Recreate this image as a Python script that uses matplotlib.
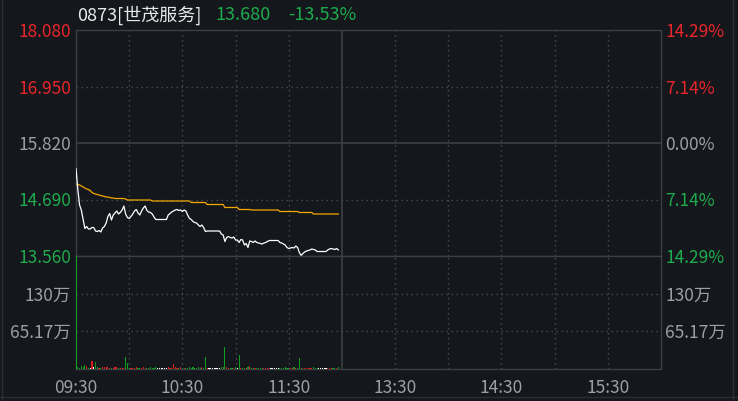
import matplotlib
matplotlib.use("Agg")
import matplotlib.pyplot as plt
from matplotlib.lines import Line2D
import numpy as np

plt.rcParams['font.family'] = ['Noto Sans CJK SC', 'DejaVu Sans']

# ---- data ----
stock_name = "0873[世茂服务]"
prev_close = 15.82
last_price = 13.680
change_pct = "-13.53%"

# one value per minute from 09:30
price = [
    15.31, 14.90, 14.58, 14.48, 14.30, 14.11, 14.15, 14.10, 14.10, 14.13,
    14.13, 14.06, 14.05, 14.07, 14.04, 14.12, 14.15, 14.22, 14.35, 14.41,
    14.28, 14.38, 14.42, 14.46, 14.40, 14.43, 14.48, 14.56, 14.40, 14.33,
    14.31, 14.35, 14.40, 14.46, 14.49, 14.42, 14.38, 14.46, 14.52, 14.56,
    14.47, 14.44, 14.43, 14.40, 14.34, 14.29, 14.29, 14.29, 14.29, 14.29,
    14.29, 14.29, 14.38, 14.41, 14.44, 14.46, 14.48, 14.49, 14.47, 14.48,
    14.45, 14.48, 14.46, 14.38, 14.31, 14.29, 14.25, 14.23, 14.22, 14.18,
    14.15, 14.18, 14.13, 14.05, 14.06, 14.06, 14.06, 14.06, 14.06, 14.06,
    14.06, 14.06, 14.00, 13.98, 13.85, 13.93, 13.95, 13.93, 13.92, 13.94,
    13.88, 13.88, 13.83, 13.89, 13.88, 13.78, 13.81, 13.73, 13.86, 13.85,
    13.83, 13.86, 13.83, 13.82, 13.81, 13.80, 13.82, 13.83, 13.85, 13.87,
    13.87, 13.87, 13.87, 13.87, 13.87, 13.83, 13.82, 13.80, 13.78, 13.73,
    13.71, 13.72, 13.73, 13.72, 13.76, 13.73, 13.63, 13.57, 13.61, 13.64,
    13.66, 13.67, 13.68, 13.70, 13.69, 13.68, 13.65, 13.65, 13.65, 13.65,
    13.65, 13.65, 13.68, 13.70, 13.71, 13.70, 13.69, 13.71, 13.68,
]

avg_price = [
    15.00, 14.99, 14.98, 14.96, 14.94, 14.92, 14.90, 14.89, 14.87, 14.83,
    14.81, 14.80, 14.79, 14.78, 14.77, 14.76, 14.75, 14.74, 14.74, 14.73,
    14.72, 14.72, 14.71, 14.71, 14.71, 14.71, 14.71, 14.71, 14.70, 14.68,
    14.68, 14.68, 14.68, 14.68, 14.68, 14.68, 14.68, 14.68, 14.68, 14.68,
    14.68, 14.68, 14.68, 14.66, 14.66, 14.66, 14.66, 14.66, 14.66, 14.66,
    14.66, 14.66, 14.66, 14.66, 14.66, 14.66, 14.66, 14.66, 14.66, 14.66,
    14.66, 14.66, 14.66, 14.66, 14.66, 14.63, 14.63, 14.63, 14.63, 14.63,
    14.63, 14.63, 14.63, 14.63, 14.59, 14.59, 14.59, 14.59, 14.59, 14.59,
    14.59, 14.59, 14.59, 14.59, 14.53, 14.53, 14.53, 14.53, 14.53, 14.53,
    14.53, 14.53, 14.49, 14.49, 14.49, 14.49, 14.49, 14.49, 14.49, 14.48,
    14.48, 14.48, 14.48, 14.48, 14.48, 14.48, 14.48, 14.48, 14.48, 14.48,
    14.48, 14.48, 14.48, 14.48, 14.48, 14.45, 14.45, 14.45, 14.45, 14.45,
    14.45, 14.45, 14.45, 14.45, 14.45, 14.45, 14.43, 14.43, 14.43, 14.43,
    14.43, 14.43, 14.43, 14.43, 14.40, 14.40, 14.40, 14.40, 14.40, 14.40,
    14.40, 14.40, 14.40, 14.40, 14.40, 14.40, 14.40, 14.40, 14.40,
]

# volume per minute, in 万 shares
volume = [
    260, 4, 2.3, 5, 3, 7, 5, 2, 2, 14,
    4, 12.6, 4, 2, 2, 4, 4, 4, 4, 2,
    2, 2, 4, 3, 2, 2, 2, 1.5, 21, 11,
    2, 1.5, 2, 2, 3, 1.5, 2, 2, 3, 2,
    2.5, 2, 3, 2, 2, 4, 2, 2, 1.5, 2,
    2, 2, 3, 2, 2, 9, 3, 2, 2, 3,
    2, 2, 2, 2, 3, 2, 3, 2, 2.5, 3,
    2, 3, 2, 20, 2, 2, 2, 1.5, 2, 2,
    2, 2, 3, 4, 38.6, 3, 2.5, 2, 1.5, 2,
    3, 2, 24, 2, 2, 2, 2, 4, 5, 2,
    2, 2, 2, 1.5, 2, 2, 2, 2, 1.5, 2,
    2, 2, 2, 2, 2, 2, 2, 2, 3, 2,
    2, 2, 2, 3, 2, 2, 19.5, 2, 2, 2,
    2, 2, 2, 2, 4, 2, 2, 2, 2, 2,
    2, 2, 2, 2, 2, 2, 2, 2, 3.5,
]

price_ticks = [13.56, 14.69, 15.82, 16.95, 18.08]
vol_ticks = [65.17, 130.34]
vol_tick_labels = ["65.17万", "130万"]
vol_top = 195.51
time_ticks = [0, 60, 120, 180, 240, 300]
time_labels = ["09:30", "10:30", "11:30", "13:30", "14:30", "15:30"]
session_minutes = 330   # 09:30-12:00 + 13:00-16:00
lunch_at = 150

# ---- style ----
BG = "#14171c"
BORDER = "#3c4046"
GRID = "#484c53"
RED = "#e8262c"
GREEN = "#1fab4c"
BAR_RED = "#d91c1c"
BAR_GREEN = "#0e9e1e"
GRAY = "#9ca0a6"
ORANGE = "#f5a800"
DOTTED = (0, (1, 2.6))
FS = 12.5

W, H = 738, 401
fig = plt.figure(figsize=(W / 100, H / 100), dpi=100, facecolor=BG)


def box(x0, y0, x1, y1):
    return [x0 / W, 1 - y1 / H, (x1 - x0) / W, (y1 - y0) / H]


ax_p = fig.add_axes(box(76, 30, 661, 256))
ax_v = fig.add_axes(box(76, 256, 661, 369), sharex=ax_p)

x = np.arange(len(price))

for ax in (ax_p, ax_v):
    ax.set_facecolor(BG)
    for sp in ax.spines.values():
        sp.set_color(BORDER)
        sp.set_linewidth(1)
    for t in range(30, session_minutes, 30):
        if t == lunch_at:
            ax.axvline(t, color=BORDER, lw=1.2, zorder=1)
        else:
            ax.axvline(t, color=GRID, lw=1, ls=DOTTED, zorder=1)

# price panel
for p in price_ticks[1:-1]:
    if p == prev_close:
        ax_p.axhline(p, color=BORDER, lw=1.2, zorder=1)
    else:
        ax_p.axhline(p, color=GRID, lw=1, ls=DOTTED, zorder=1)
ax_p.plot(x, avg_price, color=ORANGE, lw=0.9, zorder=3)
ax_p.plot(x, price, color="white", lw=0.9, zorder=4)
ax_p.set_xlim(0, session_minutes)
ax_p.set_ylim(price_ticks[0], price_ticks[-1])


def price_color(p):
    if p > prev_close + 1e-9:
        return RED
    if p < prev_close - 1e-9:
        return GREEN
    return GRAY


ax_p.set_yticks(price_ticks, [f"{p:.3f}" for p in price_ticks])
ax_p.tick_params(axis="y", length=0, pad=3.5, labelsize=FS)
ax_p.tick_params(axis="x", length=0, labelbottom=False)
for lbl, p in zip(ax_p.get_yticklabels(), price_ticks):
    lbl.set_color(price_color(p))

ax_pr = ax_p.twinx()
ax_pr.set_ylim(ax_p.get_ylim())
ax_pr.set_yticks(price_ticks,
                 [f"{abs(p - prev_close) / prev_close * 100:.2f}%" for p in price_ticks])
ax_pr.tick_params(axis="y", length=0, pad=3, labelsize=FS)
for lbl, p in zip(ax_pr.get_yticklabels(), price_ticks):
    lbl.set_color(price_color(p))
for sp in ax_pr.spines.values():
    sp.set_visible(False)

# volume panel
prev = [prev_close] + price[:-1]
bar_colors = []
for p, q in zip(price, prev):
    if p > q:
        bar_colors.append(BAR_RED)
    elif p < q:
        bar_colors.append(BAR_GREEN)
    else:
        bar_colors.append("white")
for v in vol_ticks:
    ax_v.axhline(v, color=GRID, lw=1, ls=DOTTED, zorder=1)
ax_v.bar(x, volume, width=0.65, color=bar_colors, linewidth=0, zorder=3)
ax_v.set_ylim(0, vol_top)
ax_v.set_yticks(vol_ticks, vol_tick_labels)
ax_v.tick_params(axis="y", length=0, pad=3.5, labelsize=FS, colors=GRAY)
ax_v.set_xticks(time_ticks, time_labels)
ax_v.tick_params(axis="x", length=0, pad=7, labelsize=FS, colors=GRAY)

ax_vr = ax_v.twinx()
ax_vr.set_ylim(ax_v.get_ylim())
ax_vr.set_yticks(vol_ticks, vol_tick_labels)
ax_vr.tick_params(axis="y", length=0, pad=3, labelsize=FS, colors=GRAY)
for sp in ax_vr.spines.values():
    sp.set_visible(False)

# header
ty = 1 - 15 / H
fig.text(77 / W, ty, stock_name, color="#e8e8e8", fontsize=13, va="center")
fig.text(215 / W, ty, f"{last_price:.3f}", color=GREEN, fontsize=13, va="center")
fig.text(288 / W, ty, change_pct, color=GREEN, fontsize=13, va="center")

# window frame
for xs, ys in [([2 / W, 2 / W], [0, 1]), ([733 / W, 733 / W], [0, 1]), ([0, 1], [1 - 397 / H, 1 - 397 / H])]:
    fig.add_artist(Line2D(xs, ys, color="#2b2e34", lw=1))

fig.savefig("out.png", dpi=100, facecolor=BG)
